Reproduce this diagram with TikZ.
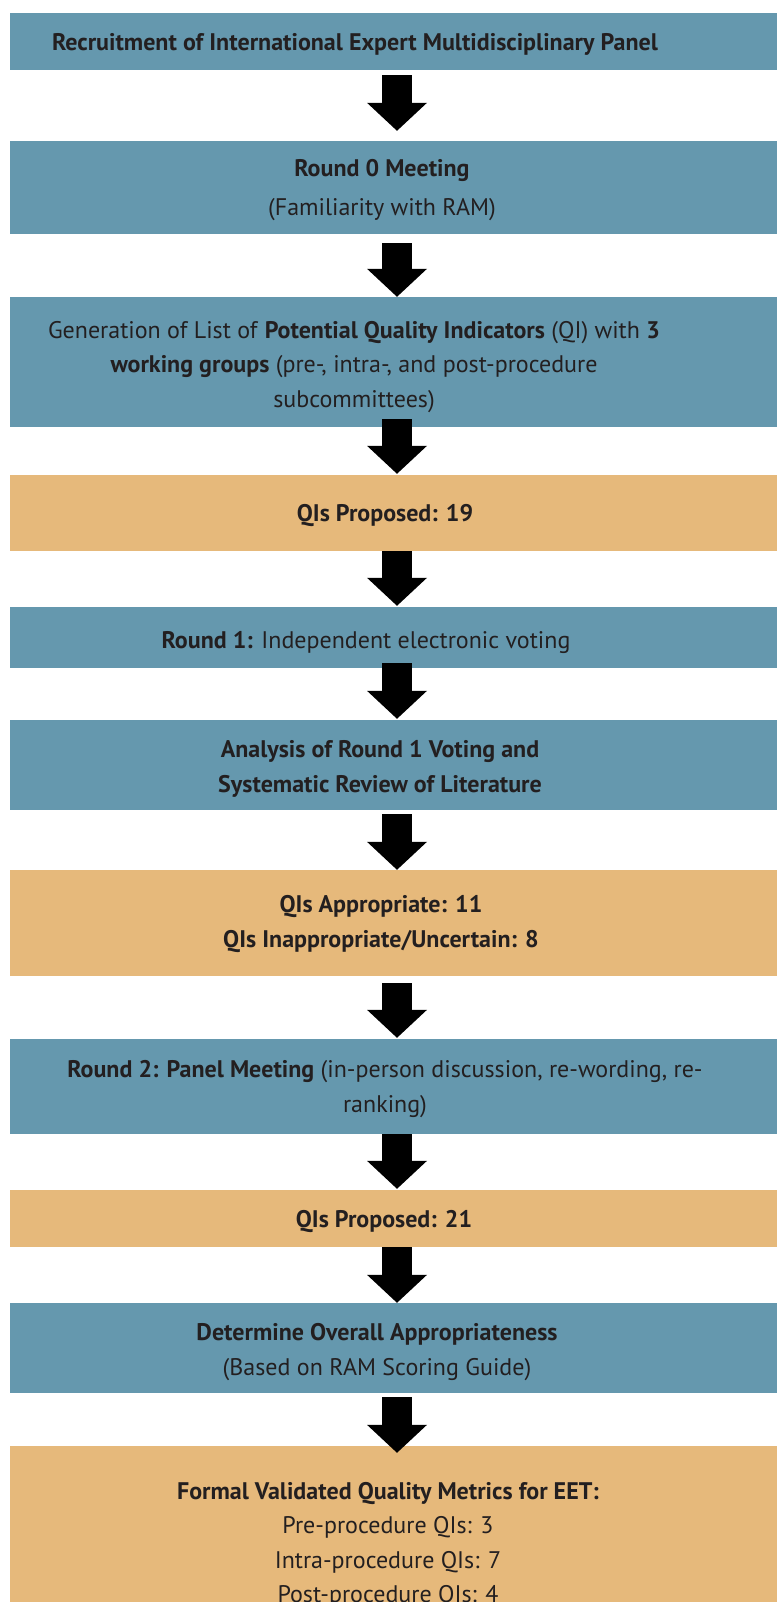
\documentclass[tikz,border=0pt]{standalone}
\usepackage{fontspec}
\setmainfont{PT Sans}
\usetikzlibrary{arrows.meta}
\definecolor{panelblue}{HTML}{6598AE}
\definecolor{resultorange}{HTML}{E6B97B}
\definecolor{inkdark}{HTML}{231F20}
\tikzset{
  stage/.style={fill=panelblue, minimum width=774pt, inner sep=0pt},
  result/.style={fill=resultorange, minimum width=774pt, inner sep=0pt},
  caption/.style={text=inkdark, align=center, inner sep=0pt,
    font=\fontsize{24}{34.5}\selectfont},
  flow/.style={line width=30pt, -{Triangle[length=28pt,width=60pt,line width=0pt]}}
}
\begin{document}
\begin{tikzpicture}[x=1pt,y=-1pt]
  \useasboundingbox (0,0) rectangle (776,1602);
  % boxes
  \node[stage,  minimum height=57pt]  (b1)  at (397,41.5) {};
  \node[stage,  minimum height=93pt]  (b2)  at (397,187.5) {};
  \node[stage,  minimum height=130pt] (b3)  at (397,362) {};
  \node[result, minimum height=76pt]  (b4)  at (397,513) {};
  \node[stage,  minimum height=61pt]  (b5)  at (397,637.5) {};
  \node[stage,  minimum height=90pt]  (b6)  at (397,765) {};
  \node[result, minimum height=106pt] (b7)  at (397,923) {};
  \node[stage,  minimum height=95pt]  (b8)  at (397,1086.5) {};
  \node[result, minimum height=57pt]  (b9)  at (397,1218.5) {};
  \node[stage,  minimum height=90pt]  (b10) at (397,1348) {};
  \node[result, minimum height=194pt] (b11) at (397,1543) {};
  % texts
  \node[caption] (t1) at (355,44) {\textbf{Recruitment of International Expert Multidisciplinary Panel}};
  \node[caption] (t2) at (382,190) {\textbf{Round 0 Meeting}\\[4.5pt](Familiarity with RAM)};
  \node[caption] (t3) at (354,367) {Generation of List of \textbf{Potential Quality Indicators} (QI) with \textbf{3}\\
    \textbf{working groups} (pre-, intra-, and post-procedure\\subcommittees)};
  \node[caption] (t4) at (385,516) {\textbf{QIs Proposed: 19}};
  \node[caption] (t5) at (366,642) {\textbf{Round 1:} Independent electronic voting};
  \node[caption] (t6) at (380,769) {\textbf{Analysis of Round 1 Voting and}\\\textbf{Systematic Review of Literature}};
  \node[caption] (t7) at (381,924) {\textbf{QIs Appropriate: 11}\\\textbf{QIs Inappropriate/Uncertain: 8}};
  \node[caption] (t8) at (385,1089) {\textbf{Round 2: Panel Meeting} (in-person discussion, re-wording, re-\\ranking)};
  \node[caption] (t9) at (384,1221) {\textbf{QIs Proposed: 21}};
  \node[caption] (t10) at (377,1352) {\textbf{Determine Overall Appropriateness}\\(Based on RAM Scoring Guide)};
  \node[caption] (t11) at (388,1545) {\textbf{Formal Validated Quality Metrics for EET:}\\Pre-procedure QIs: 3\\
    Intra-procedure QIs: 7\\Post-procedure QIs: 4};
  % arrows
  \foreach \from/\to/\s/\e in {b1/b2/5/10, b2/b3/9/0, b3/b4/-8/1, b4/b5/0/1, b5/b6/-5/1,
      b6/b7/4/0, b7/b8/7/1, b8/b9/0/1, b9/b10/0/0, b10/b11/4/-7}
    \draw[flow, shorten <=\s pt, shorten >=\e pt] (\from.south) -- (\to.north);
\end{tikzpicture}
\end{document}
